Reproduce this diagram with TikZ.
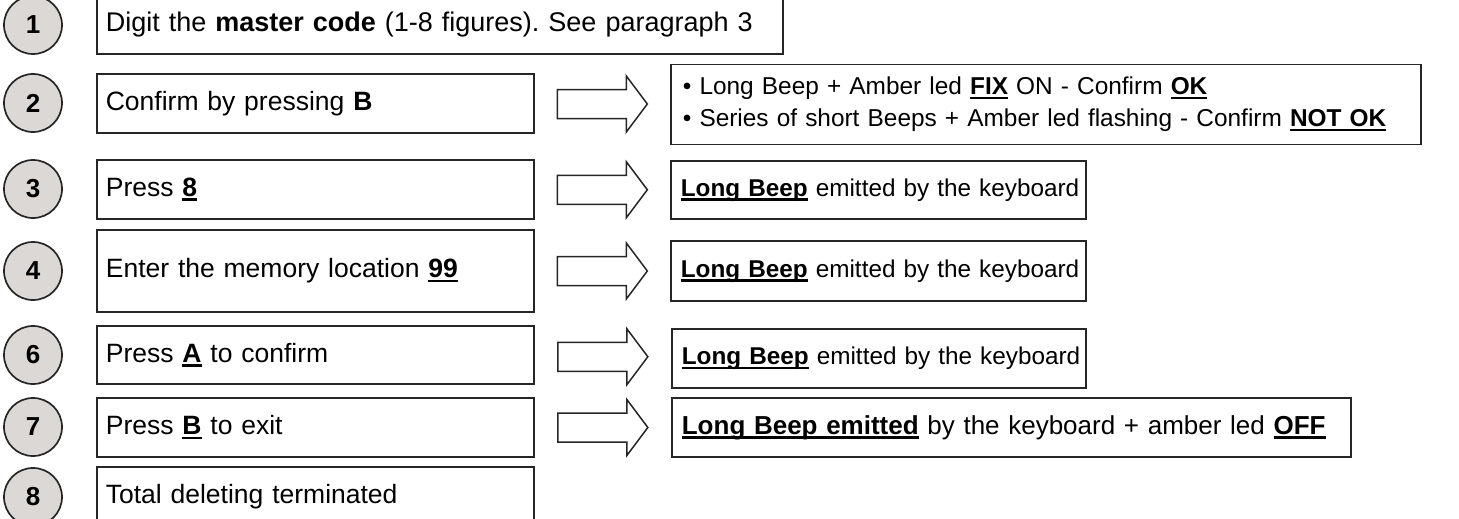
\documentclass[tikz,border=0pt]{standalone}
\usepackage{fontspec}
\setmainfont{Liberation Sans}
\usetikzlibrary{calc}
\definecolor{stepgray}{RGB}{220,216,213}
\definecolor{inkgray}{RGB}{38,38,38}
\newsavebox{\ulbox}
\newcommand{\ulbf}[1]{\sbox{\ulbox}{\textbf{#1}}\rlap{\rule[-4.6pt]{\wd\ulbox}{2.6pt}}\usebox{\ulbox}}
\newcommand{\fatarrow}[2]{\draw[arrowline] ($(#1.east)!0.5!(#2.west)$) ++(-45,-14.5) -- ++(69,0) -- ++(0,-13.5) -- ++(21,28) -- ++(-21,28) -- ++(0,-13.5) -- ++(-69,0) -- cycle;}
\frenchspacing

\begin{document}
\begin{tikzpicture}[x=1pt, y=-1pt,
	numcircle/.style={circle, draw=inkgray, line width=1.7pt, fill=stepgray, minimum size=58pt, inner sep=0pt, font=\fontsize{26}{30}\selectfont\bfseries},
	stepbox/.style={draw=inkgray, line width=1.7pt, anchor=west, inner xsep=9pt, inner ysep=0pt, align=left, font=\fontsize{26.5}{32}\selectfont},
	resultbox/.style={stepbox, inner xsep=10pt, font=\fontsize{24.3}{32}\selectfont},
	arrowline/.style={draw=inkgray, line width=1.5pt, fill=white}]
			%%%%% FRAME %%%%%
			\useasboundingbox (0,0) rectangle (1459,519);
			
			%%%%% NUMBERS %%%%%
			\node[numcircle] (c1) at (33, 25) {1};
			\node[numcircle] (c2) at (33, 103) {2};
			\node[numcircle] (c3) at (33, 189) {3};
			\node[numcircle] (c4) at (33, 271) {4};
			\node[numcircle] (c6) at (33, 355) {6};
			\node[numcircle] (c7) at (33, 427) {7};
			\node[numcircle] (c8) at (33, 497) {8};
			
			%%%%% STEPS %%%%%
			\node[stepbox, text width=668, minimum height=59, font=\fontsize{27}{32}\selectfont] (s1) at (96, 24.5) {Digit the \textbf{master code} (1-8 figures). See paragraph 3};
			\node[stepbox, text width=419, minimum height=59] (s2) at (96, 103.5) {Confirm by pressing \textbf{B}};
			\node[stepbox, text width=419, minimum height=59] (s3) at (96, 189.5) {Press \ulbf{8}};
			\node[stepbox, text width=419, minimum height=82] (s4) at (96, 271) {Enter the memory location \ulbf{99}};
			\node[stepbox, text width=419, minimum height=58] (s6) at (96, 355) {Press \ulbf{A} to confirm};
			\node[stepbox, text width=419, minimum height=59] (s7) at (96, 427.5) {Press \ulbf{B} to exit};
			\node[stepbox, text width=419, minimum height=60] (s8) at (96, 497) {Total deleting terminated};
			
			%%%%% RESULTS %%%%%
			\node[resultbox, inner xsep=12pt, text width=726, minimum height=80, font=\fontsize{24.4}{32}\selectfont] (r2) at (670, 104.5) {\mbox{\textbullet\ Long Beep + Amber led \ulbf{FIX} ON - Confirm \ulbf{OK}}\\ \mbox{\textbullet\ Series of short Beeps + Amber led flashing - Confirm \ulbf{NOT OK}}};
			\node[resultbox, text width=395, minimum height=58] (r3) at (670, 190) {\mbox{\ulbf{Long Beep} emitted by the keyboard}};
			\node[resultbox, text width=395, minimum height=60] (r4) at (670, 271) {\mbox{\ulbf{Long Beep} emitted by the keyboard}};
			\node[resultbox, text width=394, minimum height=59] (r6) at (671, 358.5) {\mbox{\ulbf{Long Beep} emitted by the keyboard}};
			\node[resultbox, text width=659, minimum height=59, font=\fontsize{26}{32}\selectfont] (r7) at (671, 427.5) {\mbox{\ulbf{Long Beep emitted} by the keyboard + amber led \ulbf{OFF}}};
			
			%%%%% ARROWS %%%%%
			\fatarrow{s2}{r2}
			\fatarrow{s3}{r3}
			\fatarrow{s4}{r4}
			\fatarrow{s6}{r6}
			\fatarrow{s7}{r7}
\end{tikzpicture}
\end{document}
